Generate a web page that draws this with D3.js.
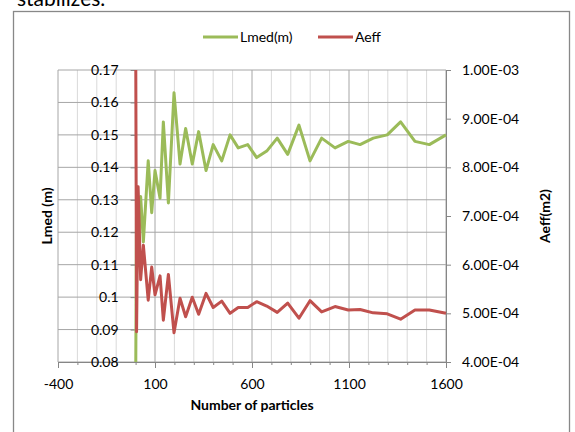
<!DOCTYPE html>
<html>
<head>
<meta charset="utf-8">
<script src="https://d3js.org/d3.v7.min.js"></script>
<style>
    body { margin: 0; background: #fff; }
    text { font-family: Lato, "Open Sans", sans-serif; fill: #000; }
    .axis path, .axis line { stroke: #868686; }
    .axis text { font-size: 14px; }
</style>
</head>
<body>
<svg width="575" height="432"></svg>
<script>
    // number of particles (x) and the two series
    const particles = [1, 5, 13, 26, 40, 65, 83, 100, 126, 143, 169, 198, 229, 258, 292, 325, 363, 400, 444, 487,
        529, 578, 624, 676, 730, 784, 842, 899, 959, 1028, 1096, 1157, 1225, 1297, 1366, 1440, 1514, 1600];
    const lmed = [0.080, 0.131, 0.113, 0.131, 0.117, 0.142, 0.126, 0.139, 0.1305, 0.154, 0.129, 0.163, 0.141, 0.152,
        0.141, 0.151, 0.139, 0.147, 0.142, 0.150, 0.146, 0.147, 0.143, 0.145, 0.149, 0.144, 0.153, 0.142, 0.149,
        0.146, 0.148, 0.147, 0.149, 0.150, 0.154, 0.148, 0.147, 0.150];
    const aeff = [1.0e-3, 4.62e-4, 7.6e-4, 5.69e-4, 6.40e-4, 5.27e-4, 5.95e-4, 5.38e-4, 5.77e-4, 4.86e-4, 5.80e-4,
        4.60e-4, 5.31e-4, 4.93e-4, 5.33e-4, 4.98e-4, 5.41e-4, 5.12e-4, 5.25e-4, 5.00e-4, 5.12e-4, 5.12e-4, 5.24e-4,
        5.15e-4, 5.02e-4, 5.21e-4, 4.90e-4, 5.26e-4, 5.03e-4, 5.14e-4, 5.07e-4, 5.08e-4, 5.01e-4, 4.99e-4, 4.88e-4,
        5.07e-4, 5.07e-4, 5.00e-4];

    // tick labels
    const xTicks = [-400, 100, 600, 1100, 1600];
    const xMinor = [-400, -300, -200, -100, 0, 100, 200, 300, 400, 500, 600, 700, 800, 900, 1000,
        1100, 1200, 1300, 1400, 1500, 1600];
    const lmedTicks = [0.08, 0.09, 0.1, 0.11, 0.12, 0.13, 0.14, 0.15, 0.16, 0.17];
    const aeffTicks = [4e-4, 5e-4, 6e-4, 7e-4, 8e-4, 9e-4, 1e-3];

    const svg = d3.select('svg');

    // caption text cut off above the chart, as in the source
    svg.append('text').attr('x', 17).attr('y', 6).style('font-size', '21px').text('stabilizes.');

    // chart border
    svg.append('rect').attr('x', 13.5).attr('y', 11.5).attr('width', 556).attr('height', 440)
        .attr('fill', 'none').attr('stroke', '#888').attr('stroke-width', 1.3);

    let x = d3.scaleLinear().domain([-400, 1600]).range([58, 446]);
    let yL = d3.scaleLinear().domain([0.08, 0.17]).range([362, 70]);
    let yR = d3.scaleLinear().domain([4e-4, 1e-3]).range([362, 70]);

    // gridlines
    svg.append('g').selectAll('line').data(xMinor).enter().append('line')
        .attr('x1', d => x(d)).attr('x2', d => x(d)).attr('y1', 70).attr('y2', 362)
        .attr('stroke', d => xTicks.includes(d) ? '#a6a6a6' : '#d9d9d9').attr('stroke-width', 1);
    svg.append('g').selectAll('line').data(lmedTicks).enter().append('line')
        .attr('x1', 58).attr('x2', 446).attr('y1', d => yL(d)).attr('y2', d => yL(d))
        .attr('stroke', '#a6a6a6').attr('stroke-width', 1);

    // axes
    svg.append('g').attr('class', 'axis').attr('transform', 'translate(0,362)')
        .call(d3.axisBottom(x).tickValues(xMinor).tickSize(3).tickFormat(''))
        .call(g => g.select('.domain').remove());
    svg.append('g').attr('class', 'axis').attr('transform', 'translate(0,362)')
        .call(d3.axisBottom(x).tickValues(xTicks).tickSizeInner(6).tickSizeOuter(0).tickPadding(11)
            .tickFormat(d => String(d)));
    svg.append('g').attr('class', 'axis').attr('transform', `translate(${x(0)},0)`)
        .call(d3.axisLeft(yL).tickValues(lmedTicks).tickSizeInner(5).tickSizeOuter(0).tickPadding(12)
            .tickFormat(d => String(+d.toFixed(2))));
    let expFmt = d => {
        let [m, e] = d.toExponential(2).split('e');
        let n = Math.abs(+e);
        return m + 'E' + (+e < 0 ? '-' : '+') + (n < 10 ? '0' + n : n);
    };
    svg.append('g').attr('class', 'axis').attr('transform', 'translate(446,0)')
        .call(d3.axisRight(yR).tickValues(aeffTicks).tickSizeInner(5).tickSizeOuter(0).tickPadding(11).tickFormat(expFmt));

    // series lines
    let lineL = d3.line().x((d, i) => x(particles[i])).y(d => yL(d));
    let lineR = d3.line().x((d, i) => x(particles[i])).y(d => yR(d));
    svg.append('path').datum(lmed).attr('d', lineL)
        .attr('fill', 'none').attr('stroke', '#9bbb59').attr('stroke-width', 3).attr('stroke-linejoin', 'round');
    svg.append('path').datum(aeff).attr('d', lineR)
        .attr('fill', 'none').attr('stroke', '#c0504d').attr('stroke-width', 3).attr('stroke-linejoin', 'round');

    // axis titles
    svg.append('text').attr('transform', 'translate(52,216) rotate(-90)').attr('text-anchor', 'middle')
        .style('font-size', '14px').style('font-weight', 'bold').text('Lmed (m)');
    svg.append('text').attr('transform', 'translate(550,216) rotate(-90)').attr('text-anchor', 'middle')
        .style('font-size', '14px').style('font-weight', 'bold').text('Aeff(m2)');
    svg.append('text').attr('x', 252).attr('y', 410).attr('text-anchor', 'middle')
        .style('font-size', '14px').style('font-weight', 'bold').text('Number of particles');

    // legend
    let legend = [{ name: 'Lmed(m)', color: '#9bbb59', x: 203 }, { name: 'Aeff', color: '#c0504d', x: 318 }];
    let lg = svg.append('g').selectAll('g').data(legend).enter().append('g')
        .attr('transform', d => `translate(${d.x},37)`);
    lg.append('line').attr('x1', 0).attr('x2', 35).attr('stroke', d => d.color).attr('stroke-width', 3);
    lg.append('text').attr('x', 37).attr('y', 5).style('font-size', '14px').text(d => d.name);
</script>
</body>
</html>
